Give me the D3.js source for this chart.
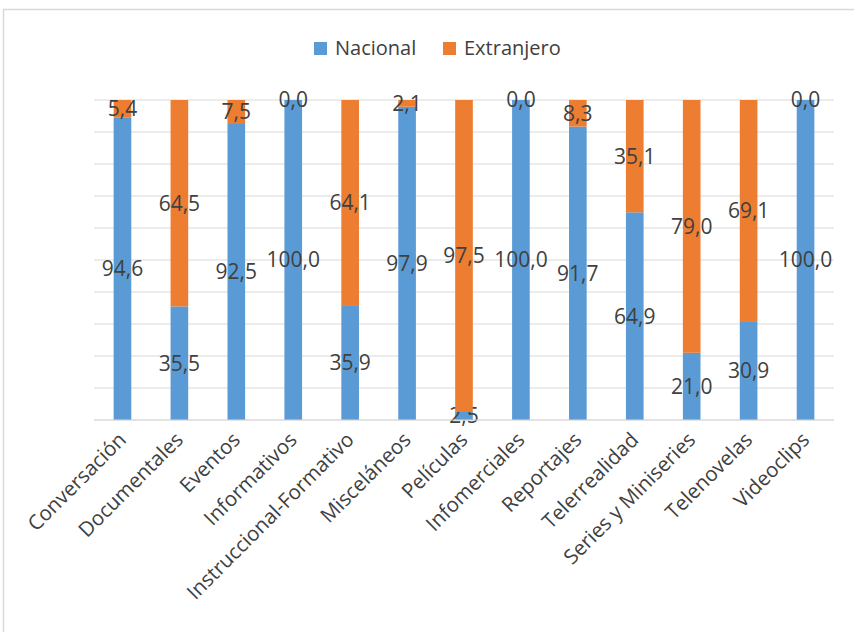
<!DOCTYPE html>
<html>
<head>
<meta charset="utf-8">
<script src="https://cdn.jsdelivr.net/npm/d3@7"></script>
<style>
  body { margin: 0; background: #fff; }
  text { font-family: "Open Sans", sans-serif; fill: #404040; }
</style>
</head>
<body>
<svg id="chart"></svg>
<script>
// data
var categories = ["Conversación", "Documentales", "Eventos", "Informativos",
  "Instruccional-Formativo", "Misceláneos", "Películas", "Infomerciales",
  "Reportajes", "Telerrealidad", "Series y Miniseries", "Telenovelas", "Videoclips"];
var nacional   = [94.6, 35.5, 92.5, 100.0, 35.9, 97.9, 2.5, 100.0, 91.7, 64.9, 21.0, 30.9, 100.0];
var extranjero = [5.4, 64.5, 7.5, 0.0, 64.1, 2.1, 97.5, 0.0, 8.3, 35.1, 79.0, 69.1, 0.0];
var seriesNames = ["Nacional", "Extranjero"];
var colors = ["#5B9BD5", "#ED7D31"];

var W = 854, H = 632;
var margin = {top: 100, left: 94},
    width = 834 - margin.left,
    height = 420 - margin.top;

var svg = d3.select("#chart").attr("width", W).attr("height", H);

// chart frame (runs off the right and bottom of the picture)
svg.append("path")
  .attr("d", "M3.5," + H + "V9.5H" + W)
  .attr("fill", "none")
  .attr("stroke", "#D9D9D9")
  .attr("stroke-width", 1.5);

var g = svg.append("g")
  .attr("transform", "translate(" + margin.left + "," + margin.top + ")");

var x = d3.scaleBand().domain(categories).range([0, width]).paddingInner(0.69).paddingOuter(0.345);
var y = d3.scaleLinear().domain([0, 100]).range([height, 0]);

// gridlines
g.append("g")
  .selectAll("line")
  .data(y.ticks(10))
  .enter().append("line")
    .attr("x1", 0).attr("x2", width)
    .attr("y1", function(d) { return y(d); })
    .attr("y2", function(d) { return y(d); })
    .attr("stroke", "#D9D9D9")
    .attr("stroke-width", 1);

var rows = categories.map(function(c, i) {
  return {cat: c, Nacional: nacional[i], Extranjero: extranjero[i]};
});
var stacked = d3.stack().keys(seriesNames)(rows);

var layers = g.selectAll(".layer")
  .data(stacked)
  .enter().append("g")
    .attr("fill", function(d, i) { return colors[i]; });

layers.selectAll("rect")
  .data(function(d) { return d; })
  .enter().append("rect")
    .attr("x", function(d) { return x(d.data.cat); })
    .attr("width", x.bandwidth())
    .attr("y", function(d) { return y(d[1]); })
    .attr("height", function(d) { return y(d[0]) - y(d[1]); });

// data labels, centred in each segment
layers.each(function(layer) {
  d3.select(this).selectAll("text")
    .data(layer)
    .enter().append("text")
      .attr("x", function(d) { return x(d.data.cat) + x.bandwidth() / 2; })
      .attr("y", function(d) { return (y(d[0]) + y(d[1])) / 2; })
      .attr("dy", "0.35em")
      .attr("text-anchor", "middle")
      .style("font-size", "21px")
      .text(function(d) { return d3.format(".1f")(d[1] - d[0]).replace(".", ","); });
});

// bottom axis line
g.append("line")
  .attr("x1", 0).attr("x2", width)
  .attr("y1", height).attr("y2", height)
  .attr("stroke", "#D9D9D9");

// category labels
g.append("g")
  .selectAll("text")
  .data(categories)
  .enter().append("text")
    .attr("transform", function(d) {
      return "translate(" + (x(d) + x.bandwidth() / 2 + 5) + "," + (height + 21) + ") rotate(-45)";
    })
    .attr("text-anchor", "end")
    .style("font-size", "20.5px")
    .text(function(d) { return d; });

// legend
var legend = svg.append("g").attr("transform", "translate(314,41)");
var legendX = [0, 129];
seriesNames.forEach(function(s, i) {
  legend.append("rect")
    .attr("x", legendX[i]).attr("y", 1)
    .attr("width", 13).attr("height", 13)
    .attr("fill", colors[i]);
  legend.append("text")
    .attr("x", legendX[i] + 21).attr("y", 14)
    .style("font-size", "20px")
    .text(s);
});
</script>
</body>
</html>
